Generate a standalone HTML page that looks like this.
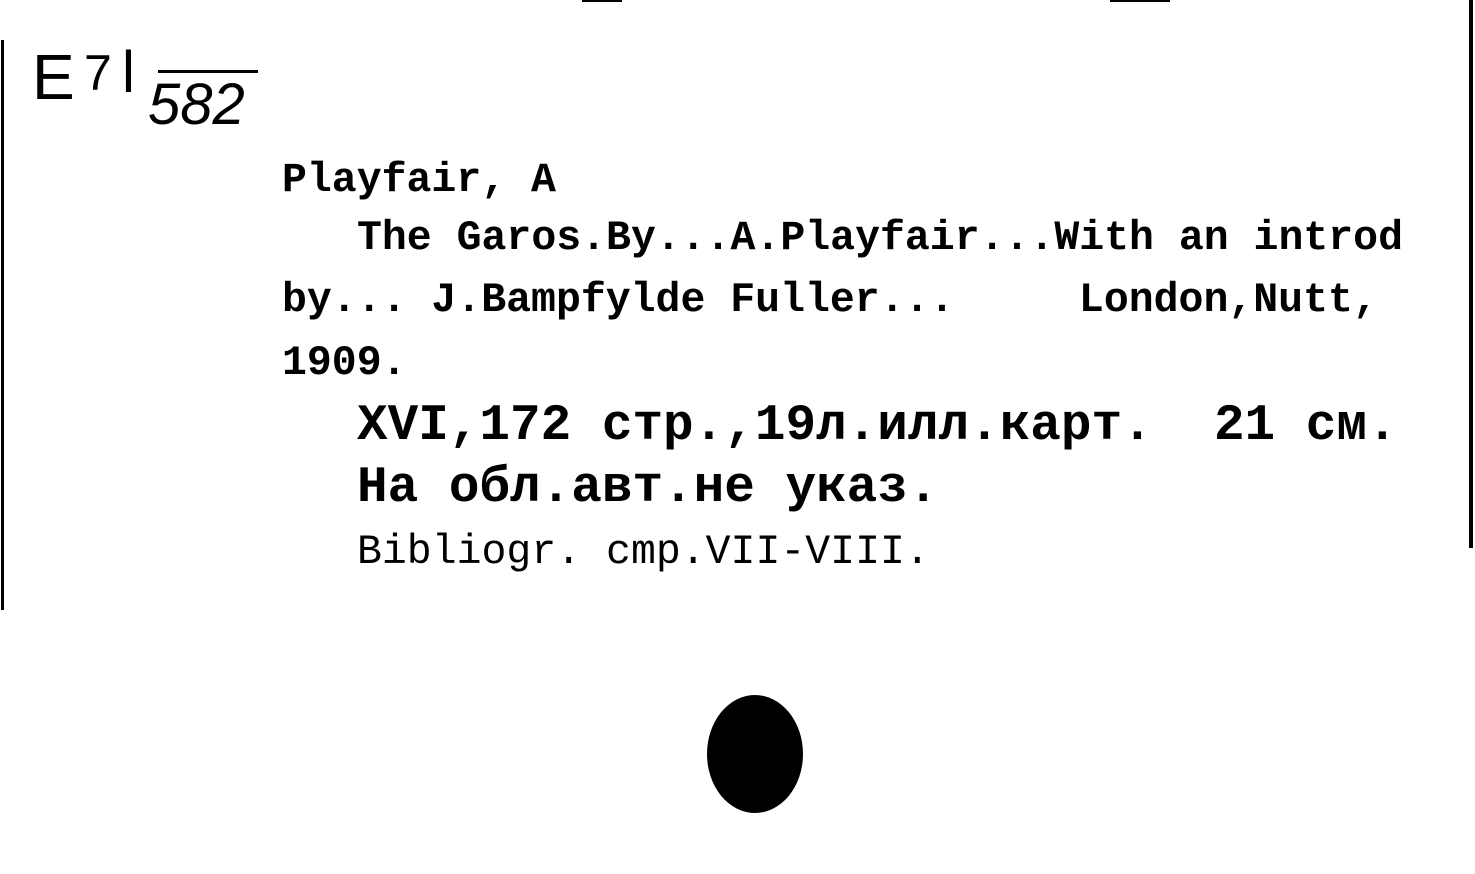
<!DOCTYPE html>
<html><head><meta charset="utf-8"><style>
html,body{margin:0;padding:0;background:#fff;}
body{width:1475px;height:874px;position:relative;overflow:hidden;}
.t{position:absolute;font-family:"Liberation Mono",monospace;font-weight:bold;color:#000;white-space:pre;line-height:1;}
.s{font-size:41.5px;}
.b{font-size:51px;}
.h{position:absolute;font-family:"Liberation Sans",sans-serif;color:#000;white-space:pre;line-height:1;}
</style></head><body>
<div style="position:absolute;left:1px;top:40px;width:3px;height:570px;background:#000"></div>
<div style="position:absolute;left:1469px;top:0;width:4px;height:548px;background:#000"></div>
<div style="position:absolute;left:582px;top:0;width:40px;height:2px;background:#000"></div>
<div style="position:absolute;left:1110px;top:0;width:60px;height:2px;background:#000"></div>

<div class="h" style="left:32px;top:45px;font-size:64px;">E</div>
<div class="h" style="left:84px;top:48px;font-size:50px;">7</div>
<div class="h" style="left:122px;top:44px;font-size:58px;">l</div>
<div style="position:absolute;left:158px;top:70px;width:100px;height:3px;background:#000"></div>
<div class="h" style="left:148px;top:76px;font-size:58px;font-style:italic;">582</div>

<div class="t s" style="left:282px;top:160px;">Playfair, A</div>
<div class="t s" style="left:357px;top:218px;">The Garos.By...A.Playfair...With an introd</div>
<div class="t s" style="left:282px;top:280px;">by... J.Bampfylde Fuller...     London,Nutt,</div>
<div class="t s" style="left:282px;top:343px;">1909.</div>
<div class="t b" style="left:357px;top:401px;">XVI,172 стр.,19л.илл.карт.  21 см.</div>
<div class="t b" style="left:357px;top:463px;">На обл.авт.не указ.</div>
<div class="t s" style="left:357px;top:532px;font-weight:normal;">Bibliogr. cmp.VII-VIII.</div>

<div style="position:absolute;left:707px;top:695px;width:96px;height:118px;background:#000;border-radius:50%;"></div>
</body></html>
